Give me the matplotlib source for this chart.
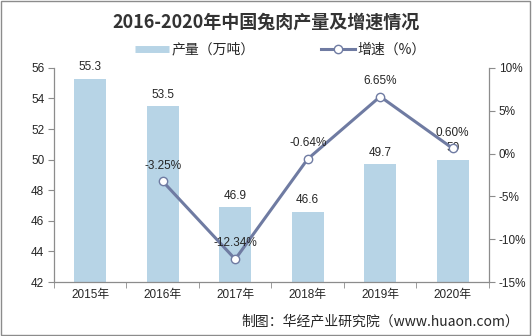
import matplotlib
matplotlib.use("Agg")
import matplotlib.pyplot as plt
from matplotlib.lines import Line2D
from matplotlib.patches import Rectangle

plt.rcParams['font.family'] = ['Liberation Sans', 'Noto Sans CJK SC', 'DejaVu Sans']

years = ["2015年", "2016年", "2017年", "2018年", "2019年", "2020年"]
output = [55.3, 53.5, 46.9, 46.6, 49.7, 50]
output_labels = ["55.3", "53.5", "46.9", "46.6", "49.7", "50"]
growth_years = [1, 2, 3, 4, 5]
growth = [-3.25, -12.34, -0.64, 6.65, 0.60]
left_ticks = [42, 44, 46, 48, 50, 52, 54, 56]
right_ticks = [-15, -10, -5, 0, 5, 10]

bar_color = "#B7D4E6"
line_color = "#6F7BA2"
text_color = "#262626"
axis_color = "#8C8C8C"
cjk = ['Noto Sans CJK SC', 'DejaVu Sans']

fig = plt.figure(figsize=(5.32, 3.36), dpi=100)
fig.patches.append(Rectangle((0.002, 0.003), 0.995, 0.994, transform=fig.transFigure,
                             fill=False, edgecolor="#8C8C8C", linewidth=1.0))

ax = fig.add_axes([0.1015, 0.1607, 0.8175, 0.6373])
x = list(range(len(years)))
ax.bar(x, [v - 42 for v in output], bottom=42, width=0.44, color=bar_color, zorder=1)
ax.set_xlim(-0.5, 5.5)
ax.set_ylim(42, 56)
ax.set_yticks(left_ticks)
ax.set_yticklabels([str(t) for t in left_ticks])
ax.set_xticks(x)
ax.set_xticklabels(years)
ax.set_xticks([i + 0.5 for i in range(-1, 6)], minor=True)
ax.tick_params(axis='x', which='major', length=0, pad=5, labelsize=8.5, colors=text_color)
ax.tick_params(axis='x', which='minor', length=4, color=axis_color)
ax.tick_params(axis='y', length=4, color=axis_color, labelsize=8.5, labelcolor=text_color, pad=3)
for side in ("top", "right"):
    ax.spines[side].set_visible(False)
for side in ("left", "bottom"):
    ax.spines[side].set_color(axis_color)
    ax.spines[side].set_linewidth(0.9)

for xi, v, lab in zip(x, output, output_labels):
    ax.annotate(lab, (xi, v), xytext=(0, 4), textcoords="offset points",
                ha="center", va="bottom", fontsize=8.5, color=text_color, zorder=5)

ax2 = ax.twinx()
ax2.set_ylim(-15, 10)
ax2.set_yticks(right_ticks)
ax2.set_yticklabels([f"{t}%" for t in right_ticks])
ax2.tick_params(axis='y', length=4, color=axis_color, labelsize=8.5, labelcolor=text_color, pad=3)
for side in ("top", "left", "bottom"):
    ax2.spines[side].set_visible(False)
ax2.spines["right"].set_color(axis_color)
ax2.spines["right"].set_linewidth(0.9)
ax2.plot(growth_years, growth, color=line_color, linewidth=2.2, marker="o", markersize=6,
         markerfacecolor="white", markeredgecolor=line_color, markeredgewidth=1.0, zorder=3)
for xi, g in zip(growth_years, growth):
    ax2.annotate(f"{g:.2f}%", (xi, g), xytext=(0, 7), textcoords="offset points",
                 ha="center", va="bottom", fontsize=8.5, color=text_color, zorder=5)

fig.text(0.5, 0.935, "2016-2020年中国兔肉产量及增速情况", ha="center", va="center",
         fontsize=13, fontweight="bold", color="#333333", family=cjk)

handles = [Line2D([0], [0], color=bar_color, linewidth=5, solid_capstyle="butt"),
           Line2D([0], [0], color=line_color, linewidth=2.2, marker="o", markersize=6,
                  markerfacecolor="white", markeredgecolor=line_color)]
fig.legend(handles, ["产量（万吨）", "增速（%）"], loc="center", bbox_to_anchor=(0.527, 0.852),
           ncol=2, frameon=False, prop={"family": cjk, "size": 10}, handlelength=2.4,
           columnspacing=4.8, handletextpad=0.2, labelcolor=text_color)

fig.text(0.975, 0.045, "制图：华经产业研究院（www.huaon.com）", ha="right", va="center",
         fontsize=10, color=text_color, family=cjk)

fig.savefig("out.png", dpi=100)
